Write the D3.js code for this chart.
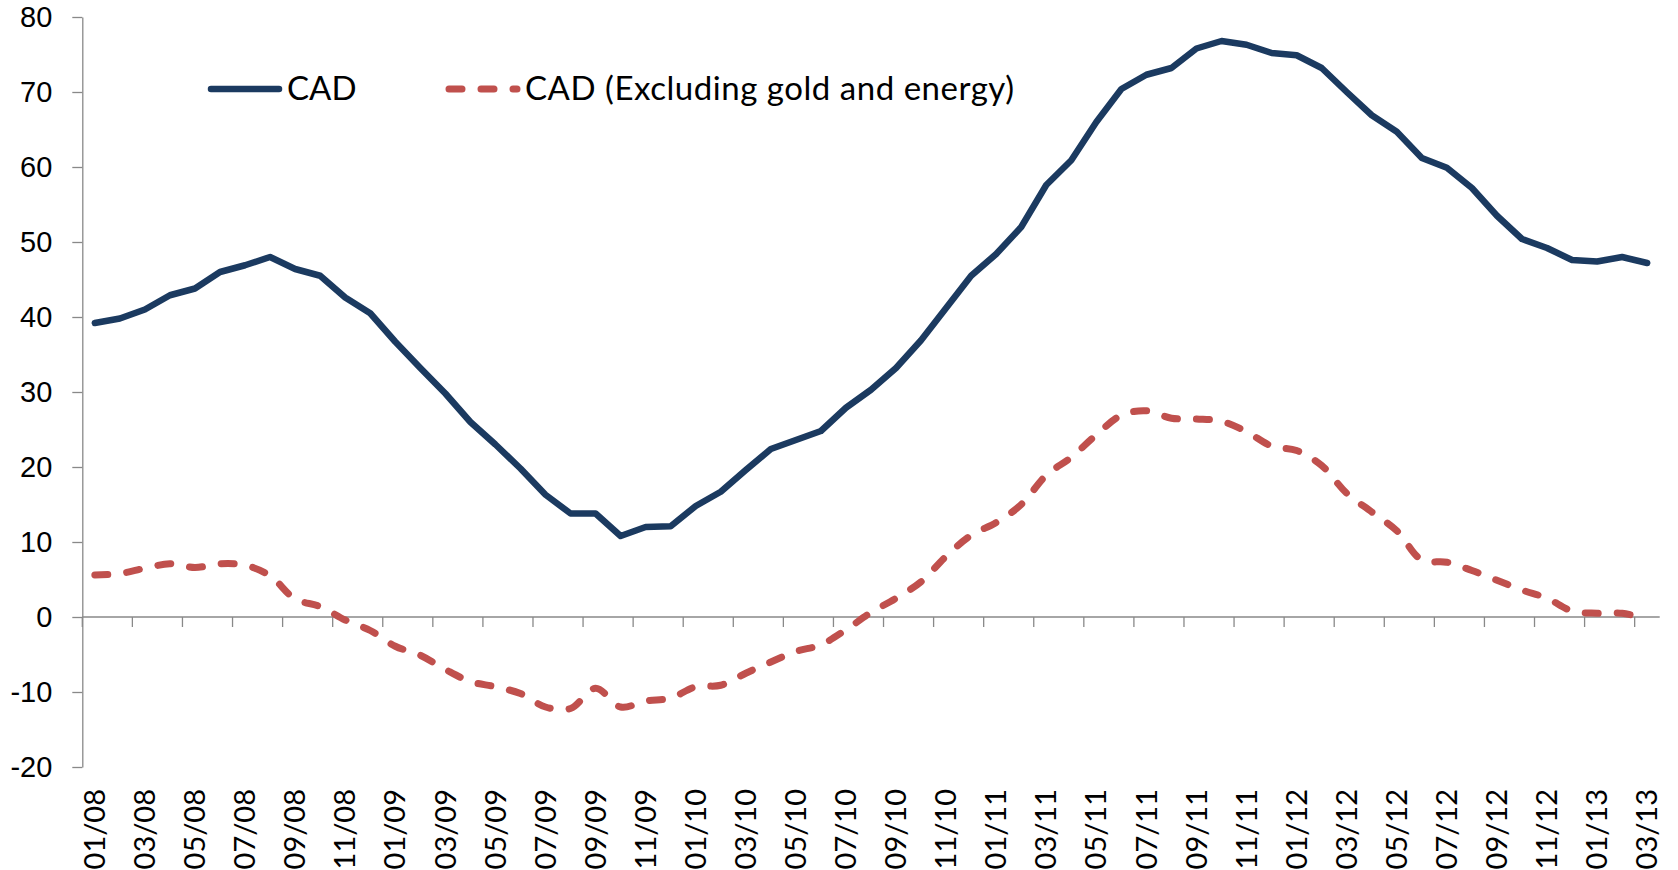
<!DOCTYPE html>
<html>
<head>
  <meta charset="utf-8">
  <title>CAD chart</title>
  <script src="https://cdnjs.cloudflare.com/ajax/libs/d3/7.8.5/d3.min.js"></script>
  <style>
    body { margin: 0; background: #fff; }
    svg { display: block; font-family: Lato, Carlito, sans-serif; }
    .axis path, .axis line { stroke: #898989; stroke-width: 1.3px; }
    .axis text { fill: #000; }
  </style>
</head>
<body>
<script>
  // monthly categories, Jan 2008 to Mar 2013
  var months = [
    '01/08','02/08','03/08','04/08','05/08','06/08','07/08','08/08','09/08','10/08','11/08','12/08',
    '01/09','02/09','03/09','04/09','05/09','06/09','07/09','08/09','09/09','10/09','11/09','12/09',
    '01/10','02/10','03/10','04/10','05/10','06/10','07/10','08/10','09/10','10/10','11/10','12/10',
    '01/11','02/11','03/11','04/11','05/11','06/11','07/11','08/11','09/11','10/11','11/11','12/11',
    '01/12','02/12','03/12','04/12','05/12','06/12','07/12','08/12','09/12','10/12','11/12','12/12',
    '01/13','02/13','03/13'
  ];

  var cad = [
    39.2, 39.8, 41.0, 42.9, 43.8, 46.0, 46.9, 48.0, 46.4, 45.5, 42.6, 40.5,
    36.7, 33.2, 29.8, 26.0, 23.0, 19.8, 16.3, 13.8, 13.8, 10.8, 12.0, 12.1,
    14.8, 16.7, 19.6, 22.4, 23.6, 24.8, 27.9, 30.3, 33.2, 36.9, 41.2, 45.5,
    48.4, 52.0, 57.6, 60.9, 66.0, 70.4, 72.3, 73.2, 75.8, 76.8, 76.3, 75.2,
    74.9, 73.2, 70.0, 66.9, 64.7, 61.2, 59.9, 57.2, 53.5, 50.4, 49.2, 47.6,
    47.4, 48.0, 47.2
  ];

  var cadExGold = [
    5.6, 5.8, 6.5, 7.1, 6.6, 7.1, 6.9, 5.5, 2.4, 1.4, -0.4, -1.8,
    -3.9, -5.1, -7.0, -8.6, -9.3, -10.2, -12.0, -12.2, -9.5, -12.0, -11.2, -10.8,
    -9.3, -9.1, -7.5, -6.0, -4.6, -3.7, -1.7, 0.6, 2.5, 4.7, 8.1, 10.9,
    12.6, 15.0, 18.9, 21.3, 24.3, 26.9, 27.5, 26.5, 26.4, 26.1, 24.7, 22.8,
    22.2, 20.2, 16.5, 14.0, 11.5, 7.6, 7.3, 6.2, 4.9, 3.6, 2.5, 0.8,
    0.5, 0.5, -0.3
  ];

  var yTicks = [-20, -10, 0, 10, 20, 30, 40, 50, 60, 70, 80];
  // every second month gets a label and a tick
  var xLabels = months.filter(function(d, i) { return i % 2 === 0; });

  var W = 1678, H = 870;
  var plotL = 82.3, plotR = 1659.7, plotT = 17, plotB = 767;

  var svg = d3.select('body').append('svg')
    .attr('width', W)
    .attr('height', H);

  var x = d3.scaleBand().domain(months).range([plotL, plotR]);
  var y = d3.scaleLinear().domain([-20, 80]).range([plotB, plotT]);
  var cx = function(i) { return x(months[i]) + x.bandwidth() / 2; };

  // y axis (plain hyphen for negatives, like the original)
  var yAxis = svg.append('g')
    .attr('class', 'axis')
    .attr('transform', 'translate(' + plotL + ',0)')
    .call(d3.axisLeft(y)
      .tickValues(yTicks)
      .tickFormat(function(d) { return String(d); })
      .tickSize(10).tickSizeOuter(0).tickPadding(20));
  yAxis.selectAll('text').style('font-size', '29px');

  // x axis on the zero line, ticks between every second category
  var xg = svg.append('g').attr('class', 'axis');
  xg.append('line')
    .attr('x1', plotL).attr('x2', plotR)
    .attr('y1', y(0)).attr('y2', y(0));
  xg.selectAll('.tk')
    .data(xLabels)
    .enter().append('line')
      .attr('class', 'tk')
      .attr('x1', function(d) { return x(d); })
      .attr('x2', function(d) { return x(d); })
      .attr('y1', y(0)).attr('y2', y(0) + 10);

  // category labels sit under the plot area, rotated
  svg.selectAll('.xl')
    .data(xLabels)
    .enter().append('text')
      .attr('class', 'xl')
      .attr('transform', function(d) {
        return 'translate(' + (x(d) + x.bandwidth() / 2) + ',' + (plotB + 22) + ') rotate(-90)';
      })
      .attr('text-anchor', 'end')
      .attr('dy', '0.35em')
      .style('font-size', '29px')
      .text(function(d) { return d; });

  // lines
  var solid = d3.line()
    .x(function(d, i) { return cx(i); })
    .y(function(d) { return y(d); });

  var smooth = d3.line()
    .x(function(d, i) { return cx(i); })
    .y(function(d) { return y(d); })
    .curve(d3.curveCatmullRom.alpha(0.5));

  svg.append('path')
    .datum(cadExGold)
    .attr('d', smooth)
    .attr('fill', 'none')
    .attr('stroke', '#C0504D')
    .attr('stroke-width', 7)
    .attr('stroke-linecap', 'round')
    .attr('stroke-linejoin', 'round')
    .attr('stroke-dasharray', '13,19');

  svg.append('path')
    .datum(cad)
    .attr('d', solid)
    .attr('fill', 'none')
    .attr('stroke', '#1B3A60')
    .attr('stroke-width', 6.5)
    .attr('stroke-linecap', 'round')
    .attr('stroke-linejoin', 'round');

  // legend
  var legend = [
    { name: 'CAD', x: 211, color: '#1B3A60', dash: null, w: 6.5, len: null },
    { name: 'CAD (Excluding gold and energy)', x: 449, color: '#C0504D', dash: '13,19', w: 7, len: 489 }
  ];
  var lg = svg.selectAll('.lg')
    .data(legend)
    .enter().append('g')
      .attr('class', 'lg');
  lg.append('line')
    .attr('x1', function(d) { return d.x; })
    .attr('x2', function(d) { return d.x + 68; })
    .attr('y1', 89).attr('y2', 89)
    .attr('stroke', function(d) { return d.color; })
    .attr('stroke-width', function(d) { return d.w; })
    .attr('stroke-linecap', 'round')
    .attr('stroke-dasharray', function(d) { return d.dash; });
  lg.append('text')
    .attr('x', function(d) { return d.x + 76; })
    .attr('y', 100)
    .attr('textLength', function(d) { return d.len; })
    .attr('lengthAdjust', 'spacing')
    .style('font-size', '33px')
    .text(function(d) { return d.name; });
</script>
</body>
</html>
